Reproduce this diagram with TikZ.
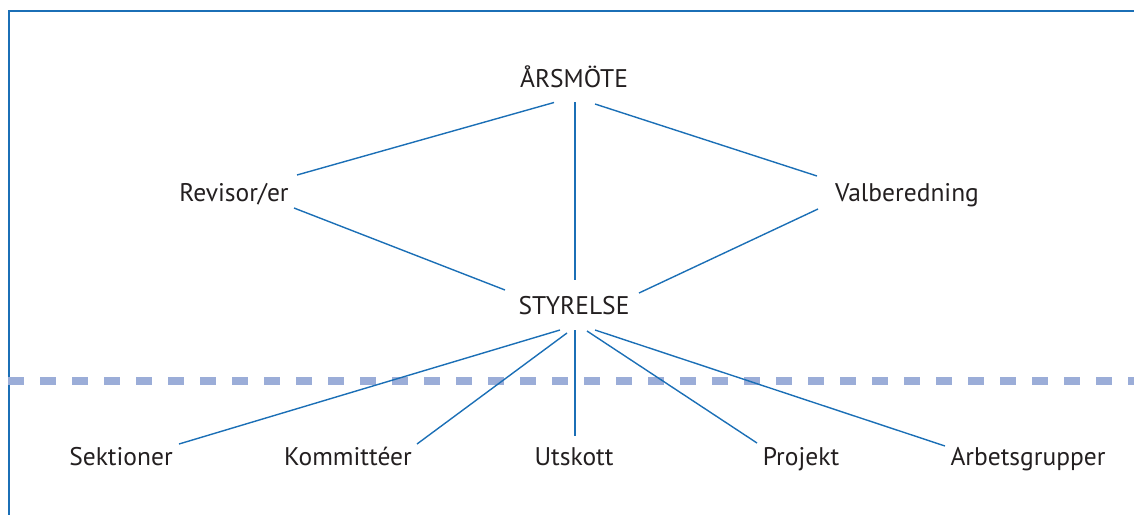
\documentclass[tikz,border=0pt]{standalone}
\usepackage{fontspec}
\setmainfont{PT Sans}
\definecolor{lineblue}{HTML}{1B6FB6}
\definecolor{dashblue}{HTML}{9BADD8}
\definecolor{txt}{HTML}{231F20}
\begin{document}
\begin{tikzpicture}[x=1pt,y=-1pt,
  lbl/.style={anchor=base,inner sep=0pt,font=\fontsize{25.5}{25.5}\selectfont,text=txt},
  conn/.style={draw=lineblue,line width=1.4pt},
  frame/.style={draw=lineblue,line width=2pt},
  sep/.style={draw=dashblue,line width=7.5pt,dash pattern=on 16pt off 16pt}]
\useasboundingbox (0,0) rectangle (1134,515);
% frame
\coordinate (ftr) at (1134,10.5);
\coordinate (ftl) at (8.5,10.5);
\coordinate (fbl) at (8.5,515);
\draw[frame] (ftr) -- (ftl) -- (fbl);
% separator
\coordinate (sl) at (8,381);
\coordinate (sr) at (1134,381);
\draw[sep] (sl) -- (sr);
% labels
\node[lbl] (ars) at (574,87) {ÅRSMÖTE};
\node[lbl] (rev) at (234,201) {Revisor/er};
\node[lbl] (val) at (907,201) {Valberedning};
\node[lbl] (sty) at (574,314) {STYRELSE};
\node[lbl] (sek) at (121,465) {Sektioner};
\node[lbl] (kom) at (348,465) {Kommittéer};
\node[lbl] (uts) at (574,465) {Utskott};
\node[lbl] (pro) at (801,465) {Projekt};
\node[lbl] (arb) at (1028,465) {Arbetsgrupper};
% connector end points
\coordinate (arsL) at (554,102.5);
\coordinate (arsM) at (575,102);
\coordinate (arsR) at (595,104);
\coordinate (revU) at (297,175);
\coordinate (revD) at (294,208);
\coordinate (valU) at (817,176);
\coordinate (valD) at (818,209);
\coordinate (styL) at (505,290);
\coordinate (styT) at (575,280);
\coordinate (styR) at (639,293);
\coordinate (styB1) at (560,330);
\coordinate (styB2) at (567,333);
\coordinate (styB3) at (575,330);
\coordinate (styB4) at (587,331);
\coordinate (styB5) at (595,330);
\coordinate (sekT) at (179,444);
\coordinate (komT) at (417,444);
\coordinate (utsT) at (575,436);
\coordinate (proT) at (757,443);
\coordinate (arbT) at (945,446);
% connectors
\draw[conn] (arsL) -- (revU);
\draw[conn] (arsM) -- (styT);
\draw[conn] (arsR) -- (valU);
\draw[conn] (revD) -- (styL);
\draw[conn] (valD) -- (styR);
\draw[conn] (styB1) -- (sekT);
\draw[conn] (styB2) -- (komT);
\draw[conn] (styB3) -- (utsT);
\draw[conn] (styB4) -- (proT);
\draw[conn] (styB5) -- (arbT);
\end{tikzpicture}
\end{document}
